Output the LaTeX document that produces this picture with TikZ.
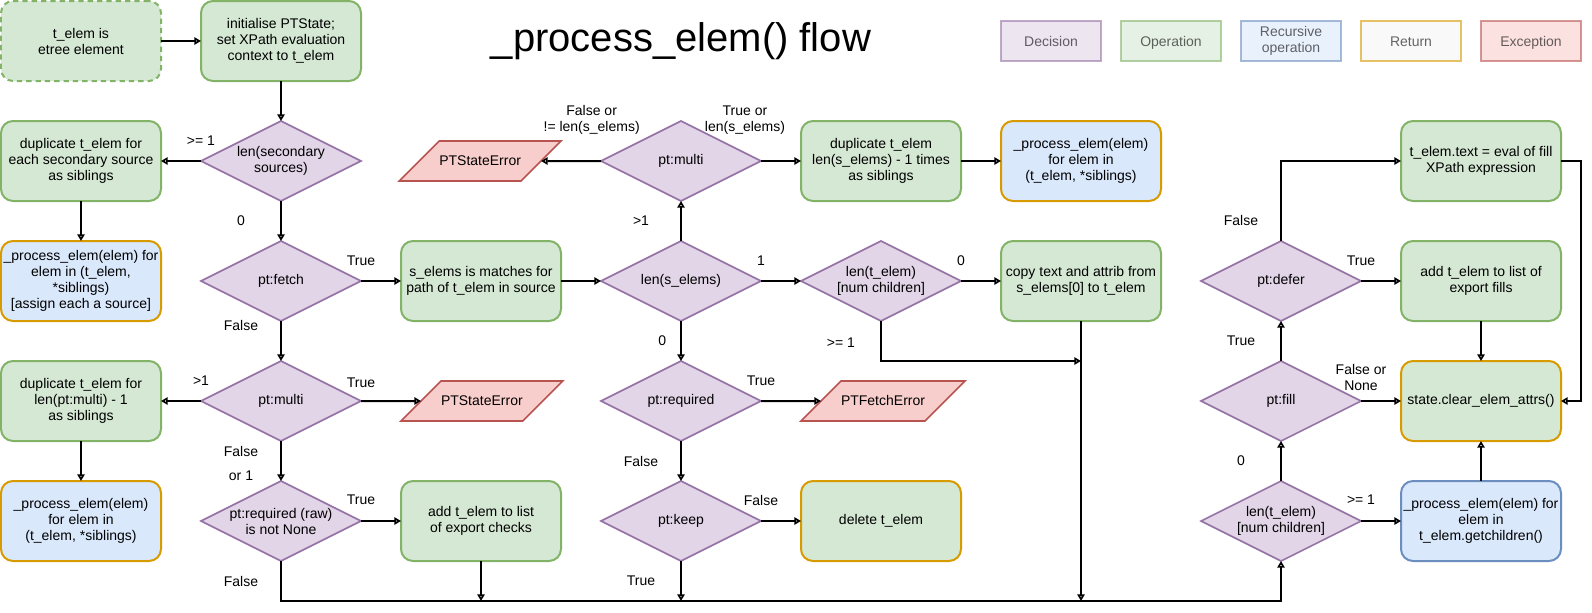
\documentclass[tikz,border=0pt]{standalone}
\usepackage{fontspec}
\setmainfont{Liberation Sans}
\usetikzlibrary{arrows.meta,positioning,shapes.geometric}
\definecolor{opfill}{HTML}{D5E8D4}
\definecolor{opline}{HTML}{82B366}
\definecolor{decfill}{HTML}{E1D5E7}
\definecolor{decline}{HTML}{9673A6}
\definecolor{recfill}{HTML}{DAE8FC}
\definecolor{recline}{HTML}{6C8EBF}
\definecolor{retfill}{HTML}{F5F5F5}
\definecolor{retline}{HTML}{D79B00}
\definecolor{errfill}{HTML}{F8CECC}
\definecolor{errline}{HTML}{B85450}

\begin{document}
\begin{tikzpicture}[
  x=0.75pt, y=-0.75pt,
  font=\fontsize{10.5pt}{12pt}\selectfont,
  node distance=30pt and 30pt,
  box/.style={draw=opline, fill=opfill, rectangle, rounded corners=9pt, line width=1.5pt, outer sep=0pt, minimum width=120pt, minimum height=60pt, align=center, inner sep=1pt},
  recbox/.style={box, draw=recline, fill=recfill},
  retbox/.style={draw=retline},
  decision/.style={draw=decline, fill=decfill, diamond, shape aspect=2, line width=1.2pt, outer sep=0pt, minimum width=120pt, minimum height=60pt, align=center, inner sep=0pt},
  errbox/.style={draw=errline, fill=errfill, trapezium, trapezium left angle=45, trapezium right angle=135, trapezium stretches body=true, line width=1.2pt, outer sep=0pt, minimum width=120pt, text height=8pt, text depth=2pt, inner xsep=0pt, inner ysep=10pt},
  keybox/.style={rectangle, line width=1.5pt, opacity=0.6, outer sep=0pt, minimum width=75pt, minimum height=30pt, align=center, inner sep=0pt},
  keyline/.style={keybox, text height=7.5pt, text depth=0pt},
  flow/.style={line width=1.5pt, -{Triangle[open, length=5pt, width=5.5pt]}},
  lbl/.style={inner sep=0pt}
]
\useasboundingbox (-1,-1) rectangle (1591,611);

\node[box, dash pattern=on 4pt off 3pt] (start) at (80,40) {t\_elem is\\etree element};
\node[box, right=of start] (init) {initialise PTState;\\set XPath evaluation\\context to t\_elem};
\node[font=\fontsize{30pt}{36pt}\selectfont] (title) at (680,40) {\_process\_elem() flow};

\node[keyline, draw=decline, fill=decfill] (keydec) at (1050,40) {Decision};
\node[keyline, draw=opline, fill=opfill, right=15pt of keydec] (keyop) {Operation};
\node[keybox, draw=recline, fill=recfill, right=15pt of keyop] (keyrec) {Recursive\\operation};
\node[keyline, draw=retline, fill=retfill, right=15pt of keyrec] (keyret) {Return};
\node[keyline, draw=errline, fill=errfill, right=15pt of keyret] (keyerr) {Exception};

\node[decision, below=of init] (secsrc) {len(secondary\\sources)};
\node[box, left=of secsrc] (dupsec) {duplicate t\_elem for\\each secondary source\\as siblings};
\node[recbox, retbox, below=of dupsec] (procsrc) {\_process\_elem(elem) for\\elem in (t\_elem,\\{*}siblings)\\{[}assign each a source]};
\node[decision, below=of secsrc] (fetch) {pt:fetch};
\node[box, right=of fetch] (smatch) {s\_elems is matches for\\path of t\_elem in source};
\node[decision, right=of smatch] (lens) {len(s\_elems)};
\node[decision, above=of lens] (multitwo) {pt:multi};
\node[errbox, left=45pt of multitwo] (errstate) {PTStateError};
\node[box, right=of multitwo] (duplen) {duplicate t\_elem\\len(s\_elems) - 1 times\\as siblings};
\node[recbox, retbox, right=of duplen] (procsib) {\_process\_elem(elem)\\for elem in\\(t\_elem, *siblings)};
\node[decision, right=of lens] (lenchild) {len(t\_elem)\\{[}num children]};
\node[box, right=of lenchild] (copy) {copy text and attrib from\\s\_elems[0] to t\_elem};
\node[decision, right=of copy] (defer) {pt:defer};
\node[box, right=of defer] (fills) {add t\_elem to list of\\export fills};
\node[box, above=of fills] (filltext) {t\_elem.text = eval of fill\\XPath expression};

\node[decision, below=of fetch] (multione) {pt:multi};
\node[box, left=of multione] (dupmulti) {duplicate t\_elem for\\len(pt:multi) - 1\\as siblings};
\node[recbox, retbox, below=of dupmulti] (procmulti) {\_process\_elem(elem)\\for elem in\\(t\_elem, *siblings)};
\node[errbox, right=45pt of multione] (errmulti) {PTStateError};
\node[decision, below=of multione] (reqraw) {pt:required (raw)\\is not None};
\node[box, right=of reqraw] (expchk) {add t\_elem to list\\of export checks};
\node[decision, below=of lens] (req) {pt:required};
\node[errbox, right=45pt of req] (errfetch) {PTFetchError};
\node[decision, below=of req] (keep) {pt:keep};
\node[box, retbox, right=of keep] (delete) {delete t\_elem};
\node[decision, below=of defer] (fill) {pt:fill};
\node[box, retbox, right=of fill] (clear) {state.clear\_elem\_attrs()};
\node[decision, below=of fill] (lentwo) {len(t\_elem)\\{[}num children]};
\node[recbox, right=of lentwo] (children) {\_process\_elem(elem) for\\elem in\\t\_elem.getchildren()};
\coordinate[below=30pt of reqraw] (bus);

\draw[flow] (start) -- (init);
\draw[flow] (init) -- (secsrc);
\draw[flow] (secsrc) -- node[lbl, pos=0, yshift=15pt] {>= 1} (dupsec);
\draw[flow] (dupsec) -- (procsrc);
\draw[flow] (secsrc) -- node[lbl, xshift=-30pt] {0} (fetch);
\draw[flow] (fetch) -- node[lbl, pos=0, yshift=15pt] {True} (smatch);
\draw[flow] (fetch) -- node[lbl, pos=0, xshift=-30pt, yshift=-3pt] {False} (multione);
\draw[flow] (multione) -- node[lbl, pos=0, yshift=15pt] {>1} (dupmulti);
\draw[flow] (multione) -- node[lbl, pos=0, yshift=13.5pt] {True} (errmulti);
\draw[flow] (dupmulti) -- (procmulti);
\draw[flow] (multione) -- node[lbl, pos=0, xshift=-30pt, yshift=-7.5pt] {False} node[lbl, pos=1, xshift=-30pt, yshift=4pt] {or 1} (reqraw);
\draw[flow] (reqraw) -- node[lbl, pos=0, yshift=15.75pt] {True} (expchk);
\draw[flow] (reqraw) -- node[lbl, pos=0, xshift=-30pt, yshift=-15pt] {False} (bus) -| (lentwo);
\draw[flow] (expchk) -- (expchk |- bus);
\draw[flow] (smatch) -- (lens);
\draw[flow] (lens) -- node[lbl, xshift=-30pt] {>1} (multitwo);
\draw[flow] (multitwo) -- node[lbl, pos=0, xshift=-7pt, yshift=31pt, align=center] {False or\\!= len(s\_elems)} (errstate);
\draw[flow] (multitwo) -- node[lbl, pos=0, xshift=-12pt, yshift=31pt, align=center] {True or\\len(s\_elems)} (duplen);
\draw[flow] (duplen) -- (procsib);
\draw[flow] (lens) -- node[lbl, pos=0, yshift=15pt] {1} (lenchild);
\draw[flow] (lens) -- node[lbl, xshift=-14pt] {0} (req);
\draw[flow] (lenchild) -- node[lbl, pos=0, yshift=15pt] {0} (copy);
\draw[flow] (lenchild) |- node[lbl, pos=0, xshift=-30pt, yshift=-16.5pt] {>= 1} (copy.south |- req.north);
\draw[flow] (copy) -- (copy |- bus);
\draw[flow] (req) -- node[lbl, pos=0, yshift=15pt] {True} (errfetch);
\draw[flow] (req) -- node[lbl, xshift=-30pt] {False} (keep);
\draw[flow] (keep) -- node[lbl, pos=0, yshift=15.75pt] {False} (delete);
\draw[flow] (keep) -- node[lbl, xshift=-30pt] {True} (keep |- bus);
\draw[flow] (lentwo) -- node[lbl, xshift=-30pt] {0} (fill);
\draw[flow] (lentwo) -- node[lbl, pos=0, yshift=15.75pt] {>= 1} (children);
\draw[flow] (children) -- (clear);
\draw[flow] (fill) -- node[lbl, xshift=-30pt] {True} (defer);
\draw[flow] (fill) -- node[lbl, pos=0, yshift=18pt, align=center] {False or\\None} (clear);
\draw[flow] (defer) -- node[lbl, pos=0, yshift=15pt] {True} (fills);
\draw[flow] (defer) |- node[lbl, pos=0, xshift=-30pt, yshift=15.75pt] {False} (filltext);
\draw[flow] (fills) -- (clear);
\draw[flow] (filltext.east) -- ++(20,0) |- (clear.east);
\end{tikzpicture}
\end{document}
